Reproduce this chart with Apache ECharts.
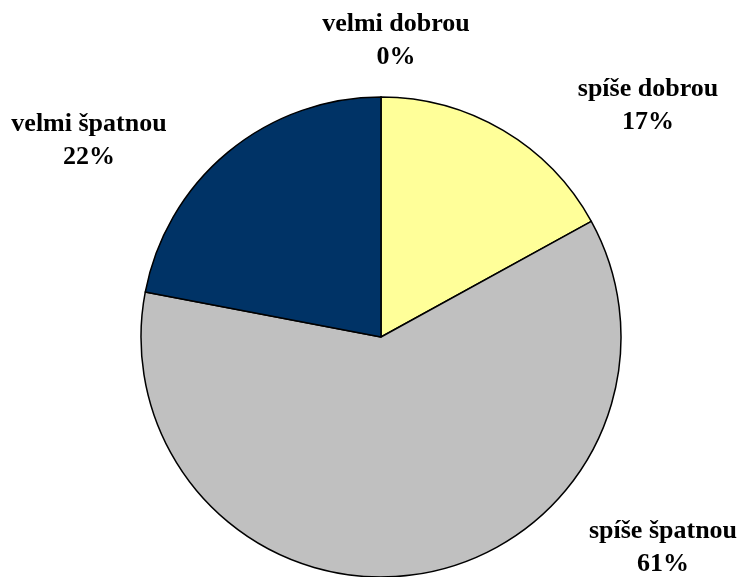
<!DOCTYPE html>
<html>
<head>
<meta charset="utf-8">
<script src="https://cdn.jsdelivr.net/npm/echarts@6/dist/echarts.min.js"></script>
<style>html,body{margin:0;padding:0;background:#fff;}#c{width:742px;height:577px;}</style>
</head>
<body>
<div id="c"></div>
<script>
const categories = ['velmi dobrou', 'spíše dobrou', 'spíše špatnou', 'velmi špatnou'];
const values = [0, 17, 61, 22];
const colors = ['#FFFFFF', '#FFFF99', '#C0C0C0', '#003366'];
const labelPos = [[396, 41], [648, 106], [663, 548], [89, 141]];

const chart = echarts.init(document.getElementById('c'), null, {renderer: 'canvas'});
chart.setOption({
  animation: false,
  series: [{
    type: 'pie',
    center: [381, 337],
    radius: 240,
    startAngle: 90,
    clockwise: true,
    minAngle: 0,
    avoidLabelOverlap: false,
    stillShowZeroSum: true,
    data: categories.map((c, i) => ({name: c, value: values[i], itemStyle: {color: colors[i]}})),
    itemStyle: {borderColor: '#000', borderWidth: 1.5},
    label: {
      show: true,
      position: 'outside',
      formatter: p => p.name + '\n' + p.value + '%',
      fontFamily: '"Liberation Serif", "Times New Roman", serif',
      fontWeight: 'bold',
      fontSize: 26,
      lineHeight: 33,
      color: '#000',
      align: 'center'
    },
    labelLine: {show: false},
    labelLayout: function (p) {
      const pos = labelPos[p.dataIndex];
      return {x: pos[0], y: pos[1], align: 'center', verticalAlign: 'middle'};
    },
    emphasis: {disabled: true}
  }]
});
</script>
</body>
</html>
